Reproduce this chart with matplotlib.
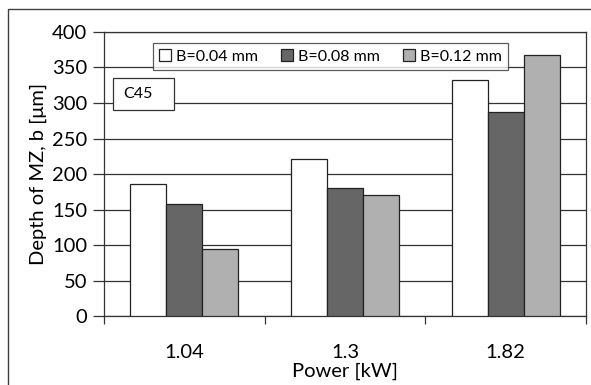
import numpy as np
import matplotlib
matplotlib.use('Agg')
import matplotlib.pyplot as plt
from matplotlib.patches import Rectangle

plt.rcParams['font.family'] = ['Lato', 'DejaVu Sans']

# data
powers = ['1.04', '1.3', '1.82']
series_names = ['B=0.04 mm', 'B=0.08 mm', 'B=0.12 mm']
depth_b004 = [186, 221, 332]
depth_b008 = [158, 180, 287]
depth_b012 = [94, 170, 368]
series_colors = ['white', '#666666', '#b0b0b0']
y_ticks = [0, 50, 100, 150, 200, 250, 300, 350, 400]

fig = plt.figure(figsize=(5.91, 3.85), dpi=100)
ax = fig.add_axes([0.176, 0.179, 0.8155, 0.738])

# outer chart frame
fig.patches.append(Rectangle((8 / 591, -0.05), 1.2, (385 - 9) / 385 + 0.05,
                             transform=fig.transFigure, fill=False,
                             edgecolor='#404040', linewidth=1.0))

x = np.arange(len(powers))
width = 0.224
for i, (vals, name, col) in enumerate(zip([depth_b004, depth_b008, depth_b012],
                                          series_names, series_colors)):
    ax.bar(x + (i - 1) * width, vals, width, color=col, edgecolor='#222222',
           linewidth=0.9, label=name, zorder=3)

ax.set_xlim(-0.5, 2.5)
ax.set_ylim(0, 400)
ax.set_yticks(y_ticks)
ax.set_xticks(x)
ax.set_xticklabels(powers)
ax.set_xticks([-0.5, 0.5, 1.5, 2.5], minor=True)

ax.grid(axis='y', color='#333333', linewidth=0.9, zorder=0)
for s in ax.spines.values():
    s.set_color('#333333')
    s.set_linewidth(0.9)

ax.tick_params(axis='y', which='major', length=8, width=0.9, color='#333333',
               labelsize=14.5, pad=4)
ax.tick_params(axis='x', which='major', length=0, labelsize=14.5, pad=20)
ax.tick_params(axis='x', which='minor', length=6, width=0.9, color='#333333')

ax.set_ylabel('Depth of MZ, b [μm]', fontsize=14.5, labelpad=4)
ax.set_xlabel('Power [kW]', fontsize=14.5, labelpad=1)

leg = ax.legend(loc='upper left', bbox_to_anchor=(0.1017, 0.961), ncol=3,
                fontsize=11.5, frameon=True, fancybox=False, edgecolor='#333333',
                handlelength=0.75, handleheight=0.75, handletextpad=0.3,
                columnspacing=1.45, borderpad=0.4, borderaxespad=0)
leg.get_frame().set_linewidth(0.9)
leg.set_zorder(5)

# C45 label box
ax.add_patch(Rectangle((0.0187, 0.725), 0.126, 0.113, transform=ax.transAxes,
                       facecolor='white', edgecolor='#333333', linewidth=0.9,
                       zorder=5))
ax.text(0.039, 0.782, 'C45', transform=ax.transAxes, fontsize=11.5,
        va='center', ha='left', zorder=6)

fig.savefig('out.png', dpi=100)
